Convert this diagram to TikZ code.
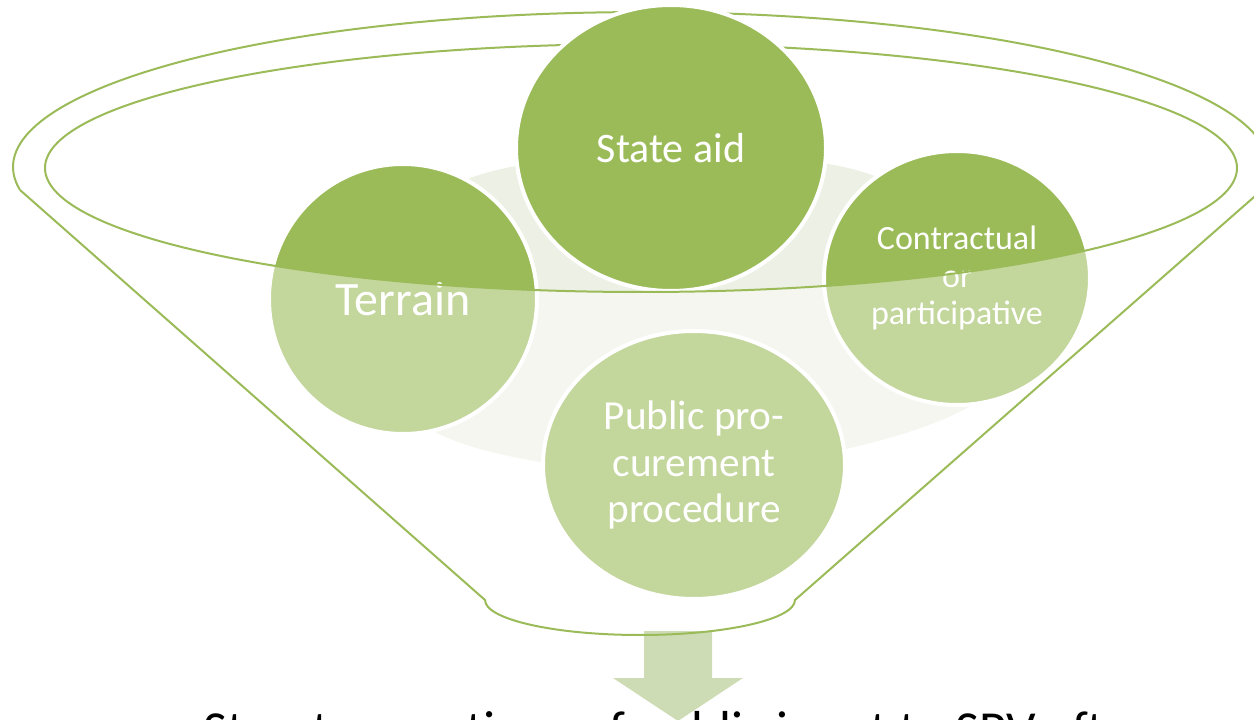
\documentclass[tikz,border=0pt]{standalone}
\usepackage{fontspec}
\setmainfont{Carlito}
\usetikzlibrary{shapes.geometric}

\tikzset{every picture/.style={line width=0.75pt}}
\tikzset{
  funnel line/.style={draw={rgb, 255:red, 155; green, 187; blue, 89}, line width=1.5pt},
  ball/.style={ellipse, draw=white, line width=3pt, text=white, align=center, inner sep=0pt},
  dark ball/.style={ball, fill={rgb, 255:red, 155; green, 187; blue, 89}},
  backdrop/.style={fill={rgb, 255:red, 237; green, 241; blue, 229}},
  arrow fill/.style={fill={rgb, 255:red, 205; green, 220; blue, 181}}
}

\begin{document}
\begin{tikzpicture}[x=0.75pt,y=0.75pt,yscale=-1,xscale=1]
    \useasboundingbox (0,0) rectangle (1254,720);
    \clip (0,0) rectangle (1254,720);

    %Shape: Funnel rim, back half
    \draw [funnel line] (20,190) arc [start angle=171.5, end angle=368.5, x radius=628, y radius=155] ;
    \draw [funnel line] (45,168) arc [start angle=180, end angle=360, x radius=596, y radius=124] ;

    %Shape: Backdrop behind the circles
    \fill [backdrop] (437,433) .. controls (380,380) and (380,230) .. (470,178) .. controls (560,145) and (790,145) .. (872,175) .. controls (990,220) and (1010,370) .. (980,400) .. controls (930,435) and (800,465) .. (690,470) .. controls (620,470) and (560,465) .. (540,462) .. controls (500,455) and (465,447) .. (437,433) -- cycle ;

    %Shape: Ellipse nodes
    \node [dark ball, minimum width=232.5pt, minimum height=214.5pt, font=\fontsize{31.5}{36}\selectfont] (stateaid) at (671,148) {State aid};
    \node [dark ball, minimum width=201pt, minimum height=202.5pt, font=\fontsize{36}{42}\selectfont] (terrain) at (403,299) {Terrain};
    \node [dark ball, minimum width=199.5pt, minimum height=190.5pt, font=\fontsize{25.5}{28}\selectfont] (contract) at (957,278) {Contractual\\or\\participative};
    \node [dark ball, minimum width=226.5pt, minimum height=201pt, font=\fontsize{31}{35}\selectfont] (procure) at (694,465) {Public pro-\\curement\\procedure};

    %Shape: Funnel body, front half
    \fill [white, fill opacity=0.4] (45,168) arc [start angle=180, end angle=0, x radius=596, y radius=124] -- (1262,190) -- (795,600) arc [start angle=0, end angle=180, x radius=155, y radius=35] -- (20,190) -- cycle ;

    %Shape: Down arrow
    \fill [arrow fill] (644,631) -- (712,631) -- (712,678) -- (743,678) -- (678,721) -- (613,678) -- (644,678) -- cycle ;

    %Straight Lines: funnel front
    \draw [funnel line] (45,168) arc [start angle=180, end angle=0, x radius=596, y radius=124] ;
    \draw [funnel line] (20,190) -- (485,600) arc [start angle=180, end angle=0, x radius=155, y radius=35] -- (1262,190) ;

    % Text Node
    \node [anchor=base west, inner sep=0pt, font=\fontsize{39}{46}\selectfont] (outcome) at (203,747) {Structure options of public input to SPV after};

\end{tikzpicture}
\end{document}
